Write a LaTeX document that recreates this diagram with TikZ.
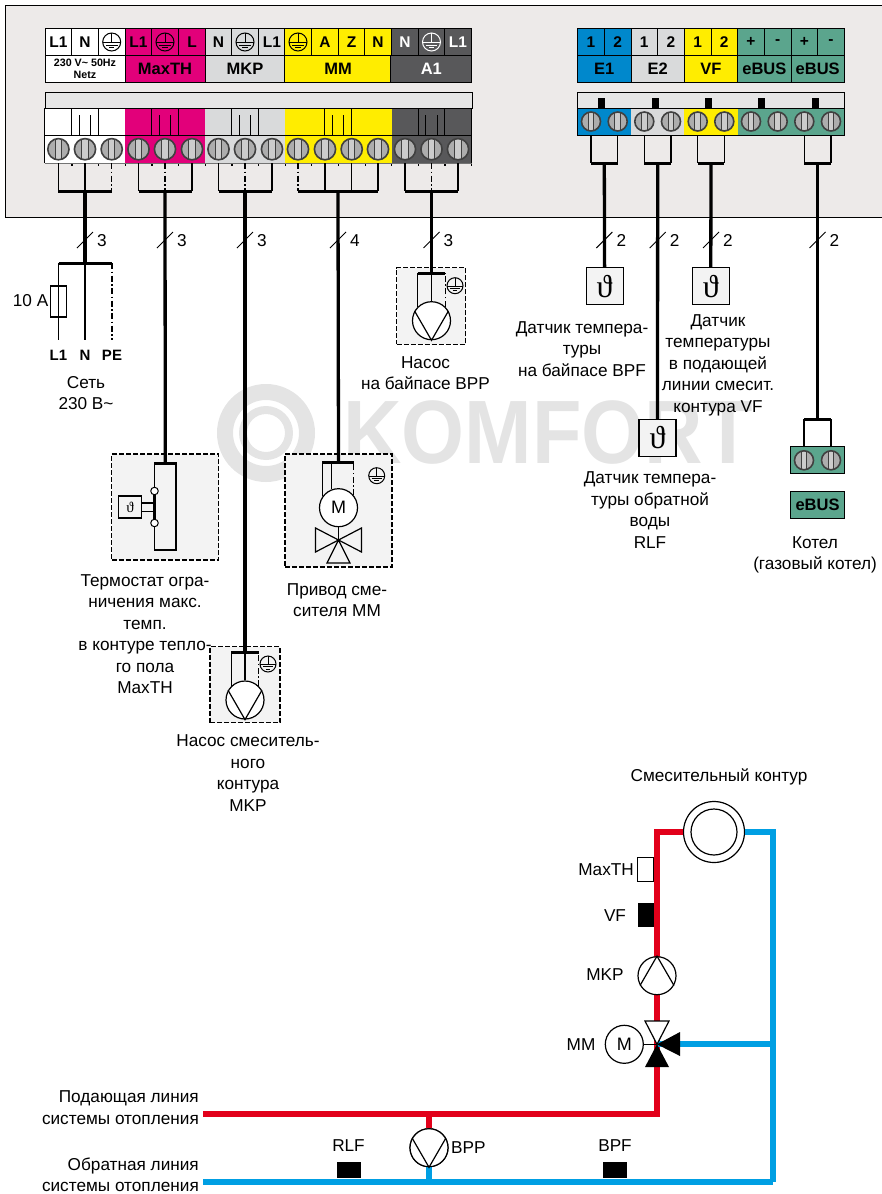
\documentclass[tikz,border=0pt]{standalone}
\usepackage{fontspec}
\setmainfont{Liberation Sans}
\newfontfamily\sensorfont{Liberation Serif}
\definecolor{panelgrey}{HTML}{EDEAE9}
\definecolor{barfill}{HTML}{E6E6E6}
\definecolor{fieldfill}{HTML}{F3F3F3}
\definecolor{markgrey}{HTML}{E4E4E4}
\definecolor{tmagenta}{HTML}{E2007A}
\definecolor{tgrey}{HTML}{D9DADB}
\definecolor{tyellow}{HTML}{FFED00}
\definecolor{tdark}{HTML}{58585A}
\definecolor{tblue}{HTML}{0088CC}
\definecolor{tgreen}{HTML}{5BA58D}
\definecolor{hotred}{HTML}{E2001A}
\definecolor{coldblue}{HTML}{009FE3}
\newcommand{\sensorsym}[1]{{\fontsize{#1}{#1}\sensorfont ϑ}}
\tikzset{
  lbl/.style={font=\fontsize{17.2}{21.5}\selectfont, align=center, inner sep=0pt},
  boldlbl/.style={lbl, font=\fontsize{15}{15}\selectfont\bfseries},
  cell/.style={draw=black, line width=1pt, fill=#1, minimum width=26.6, minimum height=27.5, inner sep=0pt, font=\fontsize{15.5}{15.5}\selectfont\bfseries},
  gcell/.style={cell=#1, font=\fontsize{16.5}{16.5}\selectfont\bfseries},
  upcell/.style={draw=#1, line width=.4pt, fill=#1, minimum width=26.6, minimum height=26.6, inner sep=0pt},
  wire/.style={line width=1.2pt},
  pewire/.style={line width=1.2pt, dash pattern=on 6pt off 2.5pt on 1.5pt off 2.5pt},
  busbar/.style={line width=3pt},
  mainwire/.style={line width=3.3pt},
  fieldbox/.style={draw, dash pattern=on 5pt off 2pt, line width=1.1pt, fill=fieldfill, inner sep=0pt},
  sensor/.style={draw, line width=1.1pt, fill=fieldfill, minimum size=37, inner sep=0pt},
  pump/.style={draw, circle, line width=1.2pt, fill=white, minimum size=38, inner sep=0pt, font=\fontsize{18}{18}\selectfont},
  blackbox/.style={fill=black, minimum width=24, minimum height=16, inner sep=0pt},
  hot/.style={line width=6pt, draw=hotred},
  cold/.style={line width=6pt, draw=coldblue},
  earth/.pic={
    \draw [line width=1pt] (0,0) circle (1);
    \draw [line width=1pt] (0,-1) -- (0,0.05) (-1,0.05) -- (1,0.05) (-.65,.35) -- (.65,.35) (-.3,.65) -- (.3,.65);
  },
  screwhead/.pic={
    \fill [black!32] (0,0) circle (1);
    \fill [white!80!black] (-.3,-.95) rectangle (.3,.95);
    \draw [black!75, line width=.9pt] (-.3,-.95) -- (-.3,.95) (.3,-.95) -- (.3,.95);
    \draw [black!75, line width=1.6pt] (0,0) circle (1);
  },
}
\begin{document}
\begin{tikzpicture}[x=1pt, y=-1pt]
\useasboundingbox (0,0) rectangle (881,1194);

% watermark
\draw [markgrey, line width=16pt] (266,433) circle (41);
\draw [markgrey, line width=8pt] (266,433) circle (23);
\node (mark) [text=markgrey, inner sep=0pt, transform shape, xscale=.9, font=\fontsize{90}{90}\selectfont\bfseries, anchor=west] at (343,433) {KOMFORT};

% housing
\node (panel) [draw, line width=1pt, fill=panelgrey, minimum width=900, minimum height=212, inner sep=0pt, anchor=north west] at (5,5) {};

% left label strip
\foreach \x/\col/\tc/\txt [count=\i] in {58.4/white/black/L1, 85/white/black/N, 111.7/white/black/, 138.5/tmagenta/black/L1, 165/tmagenta/black/, 192/tmagenta/black/L, 218.5/tgrey/black/N, 245/tgrey/black/, 272/tgrey/black/L1, 298/tyellow/black/, 325/tyellow/black/A, 351.7/tyellow/black/Z, 378/tyellow/black/N, 405/tdark/white/N, 431.5/tdark/white/, 458/tdark/white/L1}
  \node (t\i) [cell=\col, text=\tc] at (\x,42) {\txt};
\pic [scale=9] at (t3) {earth};
\pic [scale=9] at (t5) {earth};
\pic [scale=9] at (t8) {earth};
\pic [scale=9] at (t10) {earth};
\pic [scale=9, white] at (t15) {earth};
\node (gnet) [gcell=white, minimum width=80] at (85,69) {};
\node (netz) [align=center, inner sep=0pt, font=\fontsize{10.7}{12}\selectfont\bfseries] at (85,69) {230 V\textasciitilde{} 50Hz\\Netz};
\node (gmax) [gcell=tmagenta, minimum width=80] at (165,69) {MaxTH};
\node (gmkp) [gcell=tgrey, minimum width=80] at (245,69) {MKP};
\node (gmm) [gcell=tyellow, minimum width=106.4] at (338,69) {MM};
\node (ga1) [gcell=tdark, minimum width=80.8, text=white] at (431.3,69) {A1};

% left terminal block
\node (barl) [draw, line width=1pt, fill=barfill, minimum width=427, minimum height=15.5, inner sep=0pt] at (258.5,100.3) {};
\foreach \x/\col [count=\i] in {58.4/white, 85/white, 111.7/white, 138.5/tmagenta, 165/tmagenta, 192/tmagenta, 218.5/tgrey, 245/tgrey, 272/tgrey, 298/tyellow, 325/tyellow, 351.7/tyellow, 378/tyellow, 405/tdark, 431.5/tdark, 458/tdark} {
  \node (u\i) [upcell=\col] at (\x,121.5) {};
  \node (b\i) [upcell=\col, minimum height=27.6] at (\x,149.2) {};
  \pic [scale=10.6] at (b\i) {screwhead};
  \draw [wire] (b\i.south east) -- ++(0,2.5);
}
\foreach \m in {85,165,245,338,431.5} {
  \draw [line width=.8pt] (\m-13.3,108) -- (\m-13.3,135) (\m+13.3,108) -- (\m+13.3,135);
  \draw [wire] (\m-5.7,115) -- (\m-5.7,135) (\m+5.7,115) -- (\m+5.7,135);
}
\draw [line width=1pt] (b1.south west) -- (u1.north west) -- (u16.north east) -- (b16.south east);
\draw [line width=.6pt] (u1.south west) -- (u16.south east);
\draw [line width=.5pt, black!55] (b1.south west) -- (b16.south east);

% right label strip
\foreach \x/\col/\txt [count=\i] in {591/tblue/1, 617.7/tblue/2, 644.3/tgrey/1, 671/tgrey/2, 697.7/tyellow/1, 724.3/tyellow/2, 751/tgreen/+, 777.7/tgreen/-, 804.3/tgreen/+, 831/tgreen/-}
  \node (tr\i) [cell=\col] at (\x,42) {\txt};
\node (ge1) [gcell=tblue, minimum width=53.4] at (604.3,69) {E1};
\node (ge2) [gcell=tgrey, minimum width=53.4] at (657.7,69) {E2};
\node (gvf) [gcell=tyellow, minimum width=53.4] at (711,69) {VF};
\node (gbus1) [gcell=tgreen, minimum width=53.4] at (764.4,69) {eBUS};
\node (gbus2) [gcell=tgreen, minimum width=53.4] at (817.7,69) {eBUS};

% right terminal block
\node (barr) [draw, line width=1pt, fill=barfill, minimum width=267, minimum height=15.5, inner sep=0pt] at (710.8,100.3) {};
\foreach \x in {601.7,655,708,761.7,815}
  \fill (\x-3.5,98) rectangle (\x+3.5,108);
\foreach \x/\col [count=\i] in {591/tblue, 617.7/tblue, 644.3/tgrey, 671/tgrey, 697.7/tyellow, 724.3/tyellow, 751/tgreen, 777.7/tgreen, 804.3/tgreen, 831/tgreen} {
  \node (r\i) [upcell=\col] at (\x,121.5) {};
  \pic [scale=9.5] at (r\i) {screwhead};
}
\draw [line width=1pt] (r1.north west) rectangle (r10.south east);

% bus points
\coordinate (bus1) at (85,191.3);
\coordinate (bus2) at (165,191.3);
\coordinate (bus3) at (245,191.3);
\coordinate (bus4) at (338,191.3);
\coordinate (bus5) at (431.5,191.3);
\coordinate (busE1) at (604.3,163);
\coordinate (busE2) at (657.7,163);
\coordinate (busVF) at (711,163);
\coordinate (busEB) at (817.5,163);

\foreach \a/\b in {1/2, 4/6, 7/9, 11/12, 11/13, 14/16} {
  \draw [wire] (b\a.south) -- (b\a.south |- bus1);
  \draw [wire] (b\b.south) -- (b\b.south |- bus1);
}
\draw [pewire] (b3.south) -- (b3.south |- bus1);
\draw [pewire] (b5.south) -- (b5.south |- bus1);
\draw [pewire] (b8.south) -- (b8.south |- bus1);
\draw [pewire] (b10.south) -- (b10.south |- bus1);
\draw [pewire] (b15.south) -- (b15.south |- bus1);
\draw [busbar] (b1.south |- bus1) -- (b3.south |- bus1);
\draw [busbar] (b4.south |- bus1) -- (b6.south |- bus1);
\draw [busbar] (b7.south |- bus1) -- (b9.south |- bus1);
\draw [busbar] (b10.south |- bus1) -- (b13.south |- bus1);
\draw [busbar] (b14.south |- bus1) -- (b16.south |- bus1);
\foreach \a/\b/\c in {1/2/busE1, 3/4/busE2, 5/6/busVF, 9/10/busEB} {
  \draw [wire] (r\a.south) -- (r\a.south |- \c);
  \draw [wire] (r\b.south) -- (r\b.south |- \c);
  \draw [busbar] (r\a.south |- \c) -- (r\b.south |- \c);
}

% field devices
\node (boxMax) [fieldbox, minimum width=107, minimum height=106] at (165.3,507) {};
\node (boxMKP) [fieldbox, minimum width=70, minimum height=76] at (245,684.7) {};
\node (boxMM) [fieldbox, minimum width=107, minimum height=113] at (338.5,510.5) {};
\node (boxBPP) [fieldbox, minimum width=69, minimum height=76.5] at (431,306) {};

% mains feed
\coordinate (busN) at (85,263);
\node (fuse) [draw, line width=1.1pt, minimum width=15.5, minimum height=31, inner sep=0pt] at (58.5,301.5) {};
\node (tL1) [boldlbl] at (58.5,355) {L1};
\node (tN) [boldlbl] at (85,355) {N};
\node (tPE) [boldlbl] at (112,355) {PE};
\node (fuseval) [lbl, anchor=east] at (48.5,301) {10 A};
\node (netlbl) [lbl] at (86,393) {Сеть\\230 В\textasciitilde};
\draw [busbar] (tL1.north |- busN) -- (tPE.north |- busN);
\draw [wire] (tL1 |- busN) -- ([yshift=10pt]tL1.north);
\draw [wire] (busN) -- ([yshift=10pt]tN.north);
\draw [pewire] (tPE |- busN) -- ([yshift=10pt]tPE.north);
\draw [mainwire] (bus1) -- (busN);

% thermostat
\node (tstat) [draw, line width=1.2pt, minimum width=21.5, minimum height=86, inner sep=0pt] at (165.3,507) {};
\node (tsens) [draw, line width=1.1pt, minimum width=23, minimum height=22, inner sep=0pt] at (130.2,507) {\sensorsym{15}};
\coordinate (tsU) at (154.5,491);
\coordinate (tsD) at (154.5,523);
\draw [wire] (tsens.east |- 0,503) -- (tstat.west |- 0,503);
\draw [wire] (tsens.east |- 0,511.5) -- (tstat.west |- 0,511.5);
\draw [busbar] (tsU) -- (tsD);
\node (cU) [draw, circle, line width=1pt, fill=white, minimum size=7.5, inner sep=0pt] at (tsU) {};
\node (cD) [draw, circle, line width=1pt, fill=white, minimum size=7.5, inner sep=0pt] at (tsD) {};
\draw [busbar] (tstat.north west) -- (tstat.north east);
\draw [mainwire] (bus2) -- (tstat.north);

% mixing pump MKP
\node (pMKP) [pump] at (245,700) {};
\coordinate (barMKP) at (245,652.7);
\draw [wire] (pMKP.150) -- (pMKP.south) -- (pMKP.30);
\draw [wire] (pMKP.135) -- (pMKP.135 |- barMKP);
\draw [wire] (pMKP.north) -- (barMKP);
\draw [pewire] (pMKP.45) -- (pMKP.45 |- barMKP);
\draw [busbar, line width=3.5pt] (pMKP.135 |- barMKP) -- (pMKP.45 |- barMKP);
\draw [mainwire] (bus3) -- (barMKP);
\pic [scale=8] at (268,664) {earth};

% mixer drive MM
\node (motor) [pump] at (338.5,507.7) {M};
\coordinate (barMM) at (338.5,462.7);
\coordinate (vcen) at (338.5,540);
\draw [wire] (motor.145) -- (motor.145 |- barMM);
\draw [wire] (motor.110) -- (motor.110 |- barMM);
\draw [pewire] (motor.40) -- (motor.40 |- barMM);
\draw [busbar, line width=3.5pt] (motor.145 |- barMM) -- (motor.40 |- barMM);
\draw [mainwire] (bus4) -- (barMM);
\draw [wire] (motor.south) -- (vcen);
\draw [wire] (vcen) -- (315.5,528) -- (315.5,552) -- cycle;
\draw [wire] (vcen) -- (361.5,528) -- (361.5,552) -- cycle;
\draw [wire] (vcen) -- (327,563) -- (350,563) -- cycle;
\pic [scale=8] at (376.7,475.7) {earth};

% bypass pump BPP
\node (pBPP) [pump] at (431.5,320.7) {};
\coordinate (barBPP) at (431.5,273.3);
\draw [wire] (pBPP.150) -- (pBPP.south) -- (pBPP.30);
\draw [wire] (pBPP.135) -- (pBPP.135 |- barBPP);
\draw [wire] (pBPP.north) -- (barBPP);
\draw [pewire] (pBPP.45) -- (pBPP.45 |- barBPP);
\draw [busbar, line width=3.5pt] (pBPP.135 |- barBPP) -- (pBPP.45 |- barBPP);
\draw [mainwire] (bus5) -- (barBPP);
\pic [scale=8] at (455,285.7) {earth};

% sensors and boiler
\node (sBPF) [sensor] at (604.6,286.3) {\sensorsym{32}};
\node (sVF) [sensor] at (710.8,286.3) {\sensorsym{32}};
\node (sRLF) [sensor] at (657.5,438) {\sensorsym{32}};
\draw [mainwire] (busE1) -- (sBPF.north);
\draw [mainwire] (busE2) -- (sRLF.north);
\draw [mainwire] (busVF) -- (sVF.north);
\node (boil) [draw, line width=1pt, fill=tgreen, minimum width=54, minimum height=27, inner sep=0pt] at (817.5,460.3) {};
\node (boilbus) [draw, line width=1pt, fill=tgreen, minimum width=54, minimum height=27, inner sep=0pt, font=\fontsize{16.5}{16.5}\selectfont\bfseries] at (817.5,505.3) {eBUS};
\pic [scale=9.5] at (804,460.3) {screwhead};
\pic [scale=9.5] at (831,460.3) {screwhead};
\coordinate (busB) at (817.5,419);
\draw [wire] (804,447) -- (804,419);
\draw [wire] (831,447) -- (831,419);
\draw [busbar] (804,419) -- (831,419);
\draw [mainwire] (busEB) -- (busB);

% cable counts
\foreach \x/\n in {85/3, 165/3, 245/3, 338/4, 431.5/3, 604.3/2, 657.7/2, 711/2, 817.5/2} {
  \draw [line width=1pt] (\x-8,248) -- (\x+8,232);
  \node (n\x) [lbl] at (\x+17,240.5) {\n};
}

% captions
\node (capBPP) [lbl] at (425.5,373) {Насос\\на байпасе BPP};
\node (capBPF) [lbl] at (582,349) {Датчик темпера-\\туры\\на байпасе BPF};
\node (capVF) [lbl] at (718,365) {Датчик\\температуры\\в подающей\\линии смесит.\\контура VF};
\node (capRLF) [lbl] at (650,510) {Датчик темпера-\\туры обратной\\воды\\RLF};
\node (capBoil) [lbl] at (815,555) {Котел\\(газовый котел)};
\node (capMax) [lbl] at (145,634) {Термостат огра-\\ничения макс.\\темп.\\в контуре тепло-\\го пола\\MaxTH};
\node (capMM) [lbl] at (337,600) {Привод сме-\\сителя MM};
\node (capMKP) [lbl] at (248,773) {Насос смеситель-\\ного\\контура\\MKP};
\node (capLoop) [lbl] at (719,777) {Смесительный контур};

% hydraulics
\node (heat) [draw, circle, line width=1.2pt, fill=white, minimum size=61, inner sep=0pt] at (714,832) {};
\node (heati) [draw, circle, line width=1.2pt, minimum size=46, inner sep=0pt] at (714,832) {};
\coordinate (mix) at (657,1044.3);
\coordinate (flow) at (203,1113.5);
\coordinate (retn) at (203,1182);
\coordinate (retc) at (773,1182);
\coordinate (byp) at (429,1113.5);
\node (pByp) [pump] at (429,1147.7) {};
\draw [hot] (heat.west) -| (mix);
\draw [hot] (mix) |- (flow);
\draw [hot] (byp) -- (pByp.north);
\draw [cold] (heat.east) -| (retc);
\draw [cold] (retc) -- (retn);
\draw [cold] (pByp.south) -- (pByp.south |- retn);
\draw [cold] (mix) -- (mix -| retc);
\node (pByp2) [pump] at (429,1147.7) {};
\draw [wire] (pByp2.150) -- (pByp2.south) -- (pByp2.30);
\node (pMix) [pump] at (657,975.7) {};
\draw [wire] (pMix.210) -- (pMix.north) -- (pMix.330);
\node (mMax) [draw, line width=1.1pt, fill=white, minimum width=15.7, minimum height=23.5, inner sep=0pt] at (645.5,869.5) {};
\node (mVF) [fill=black, minimum width=16, minimum height=23.5, inner sep=0pt] at (645.8,915) {};
\node (mRLF) [blackbox] at (348.8,1170) {};
\node (mBPF) [blackbox] at (615,1170) {};
\node (motorh) [pump] at (624.3,1044.3) {M};
\draw [wire] (motorh.east) -- (mix);
\draw [wire, fill=white] (mix) -- (645,1021) -- (669,1021) -- cycle;
\fill (mix) -- (645,1067) -- (669,1067) -- cycle;
\fill (mix) -- (680,1032) -- (680,1056) -- cycle;
\node (lMax) [lbl, anchor=east] at (634,870) {MaxTH};
\node (lVF) [lbl] at (615,916) {VF};
\node (lMKP) [lbl] at (605,975) {MKP};
\node (lMM) [lbl] at (581,1044.5) {MM};
\node (lRLF) [lbl] at (348.5,1146) {RLF};
\node (lBPP) [lbl, anchor=west] at (451,1147.5) {BPP};
\node (lBPF) [lbl] at (615,1146) {BPF};
\node (lflow) [lbl, align=right, anchor=east] at (199,1107.5) {Подающая линия\\системы отопления};
\node (lret) [lbl, align=right, anchor=east] at (199,1175) {Обратная линия\\системы отопления};
\end{tikzpicture}
\end{document}
